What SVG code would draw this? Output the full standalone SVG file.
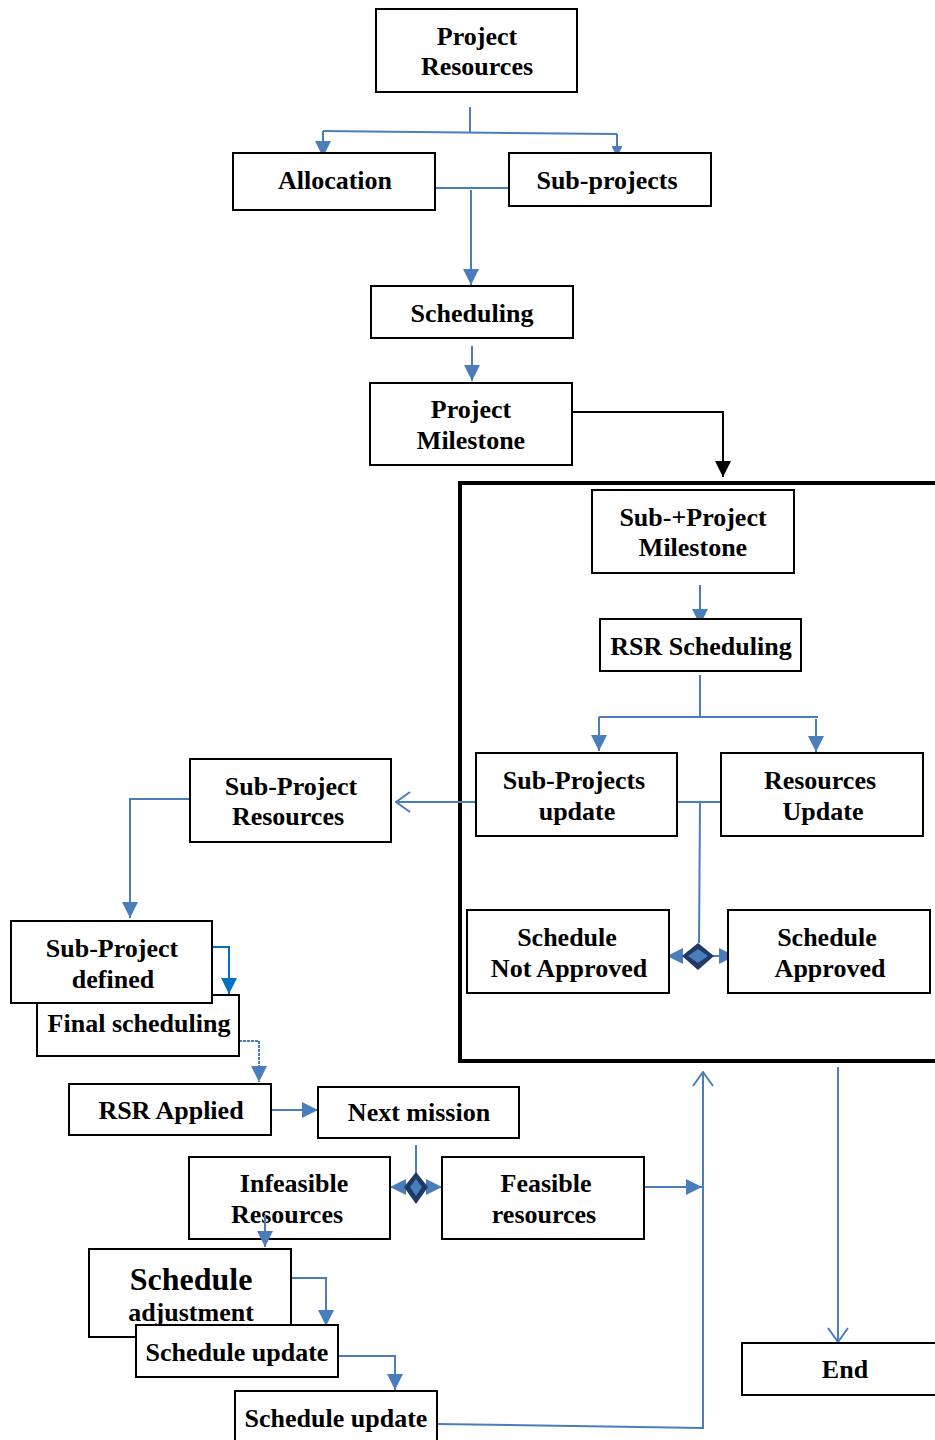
<svg xmlns="http://www.w3.org/2000/svg" width="935" height="1440" viewBox="0 0 935 1440">
<style>
.box{fill:#fff;stroke:#000;stroke-width:2}
.t{font-family:"Liberation Serif","Times New Roman",Times,serif;font-weight:700;font-size:26px;text-anchor:middle;fill:#000}
.c{fill:none;stroke:#4A7EBB;stroke-width:2}
.k{fill:none;stroke:#000;stroke-width:2}
</style>
<defs>
<marker id="tri" viewBox="0 0 16 16" refX="16" refY="8" markerWidth="16" markerHeight="16" markerUnits="userSpaceOnUse" orient="auto"><path d="M0,0 L16,8 L0,16 z" fill="#4A7EBB"/></marker>
<marker id="triS" viewBox="0 0 16 16" refX="16" refY="8" markerWidth="12" markerHeight="11" markerUnits="userSpaceOnUse" orient="auto"><path d="M0,0 L16,8 L0,16 z" fill="#4A7EBB"/></marker>
<marker id="triD" viewBox="0 0 16 16" refX="16" refY="8" markerWidth="16" markerHeight="16" markerUnits="userSpaceOnUse" orient="auto"><path d="M0,0 L16,8 L0,16 z" fill="#0070C0"/></marker>
<marker id="open" viewBox="0 0 16 22" refX="15" refY="11" markerWidth="16" markerHeight="22" markerUnits="userSpaceOnUse" orient="auto"><path d="M1,1 L15,11 L1,21" fill="none" stroke="#4A7EBB" stroke-width="2"/></marker>
<marker id="blk" viewBox="0 0 16 16" refX="16" refY="8" markerWidth="16" markerHeight="16" markerUnits="userSpaceOnUse" orient="auto"><path d="M0,0 L16,8 L0,16 z" fill="#000"/></marker>
</defs>

<rect x="460" y="483" width="480" height="578" fill="none" stroke="#000" stroke-width="4"/>

<g id="connectors">
<path class="c" d="M470,107 V132"/>
<path class="c" d="M323,131 L617,134"/>
<path class="c" d="M323,131 V157" marker-end="url(#tri)"/>
<path class="c" d="M617,134 V157" marker-end="url(#triS)"/>
<path class="c" d="M435,188 H509"/>
<path class="c" d="M471,190 V285" marker-end="url(#tri)"/>
<path class="c" d="M472,346 V381" marker-end="url(#tri)"/>
<path class="k" d="M572,412 H723 V477" marker-end="url(#blk)"/>
<path class="c" d="M700,585 V625" marker-end="url(#tri)"/>
<path class="c" d="M700,675 V717"/>
<path class="c" d="M599,717 H818"/>
<path class="c" d="M599,717 V751" marker-end="url(#tri)"/>
<path class="c" d="M816,719 V752" marker-end="url(#tri)"/>
<path class="c" d="M677,802 H722"/>
<path class="c" d="M700,802 L699,943"/>
<path class="c" d="M683,956 H667" marker-end="url(#tri)"/>
<path class="c" d="M713,956 H735" marker-end="url(#tri)"/>
<path class="c" d="M476,802 H396" marker-end="url(#open)"/>
<path class="c" d="M190,799 H130 V918" marker-end="url(#tri)"/>
<path d="M212,947 H229 V994" fill="none" stroke="#0070C0" stroke-width="2" marker-end="url(#triD)"/>
<path class="c" d="M239,1041 H259 V1082" stroke-dasharray="3,1" marker-end="url(#tri)"/>
<path class="c" d="M271,1110 H318" marker-end="url(#tri)"/>
<path class="c" d="M416,1145 V1173"/>
<path class="c" d="M405,1187 H390" marker-end="url(#tri)"/>
<path class="c" d="M427,1187 H442" marker-end="url(#tri)"/>
<path class="c" d="M644,1187 H702" marker-end="url(#tri)"/>
<path class="c" d="M437,1424 L703,1428 V1072" marker-end="url(#open)"/>
<path class="c" d="M838,1067 V1342" marker-end="url(#open)"/>
<path class="c" d="M291,1278 H326 V1326" marker-end="url(#tri)"/>
<path class="c" d="M338,1356 H395 V1390" marker-end="url(#tri)"/>
</g>

<g id="diamond1">
<path d="M698,943 L714,956 L698,970 L682,956 z" fill="#1F3864"/>
<path d="M698,949 L708,956 L698,963 L688,956 z" fill="#4A7EBB"/>
</g>
<g id="diamond2">
<path d="M416,1172 L428,1187 L416,1204 L404,1187 z" fill="#1F3864"/>
<path d="M416,1179 L422,1187 L416,1196 L410,1187 z" fill="#4A7EBB"/>
</g>

<g id="project-resources"><rect class="box" x="376" y="9" width="201" height="83"/><text class="t" x="477" y="45">Project</text><text class="t" x="477" y="75">Resources</text></g>
<g id="allocation"><rect class="box" x="233" y="153" width="202" height="57"/><text class="t" x="335" y="189">Allocation</text></g>
<g id="sub-projects"><rect class="box" x="509" y="153" width="202" height="53"/><text class="t" x="607" y="189">Sub-projects</text></g>
<g id="scheduling"><rect class="box" x="371" y="286" width="202" height="52"/><text class="t" x="472" y="322">Scheduling</text></g>
<g id="project-milestone"><rect class="box" x="370" y="383" width="202" height="82"/><text class="t" x="471" y="418">Project</text><text class="t" x="471" y="449">Milestone</text></g>
<g id="sub-project-milestone"><rect class="box" x="592" y="490" width="202" height="83"/><text class="t" x="693" y="526">Sub-+Project</text><text class="t" x="693" y="556">Milestone</text></g>
<g id="rsr-scheduling"><rect class="box" x="600" y="619" width="201" height="52"/><text class="t" x="701" y="655">RSR Scheduling</text></g>
<g id="sub-projects-update"><rect class="box" x="476" y="753" width="201" height="83"/><text class="t" x="574" y="789">Sub-Projects</text><text class="t" x="577" y="820">update</text></g>
<g id="resources-update"><rect class="box" x="721" y="753" width="202" height="83"/><text class="t" x="820" y="789">Resources</text><text class="t" x="823" y="820">Update</text></g>
<g id="schedule-not-approved"><rect class="box" x="467" y="910" width="202" height="83"/><text class="t" x="567" y="946">Schedule</text><text class="t" x="569" y="977">Not Approved</text></g>
<g id="schedule-approved"><rect class="box" x="728" y="910" width="202" height="83"/><text class="t" x="827" y="946">Schedule</text><text class="t" x="830" y="977">Approved</text></g>
<g id="sub-project-resources"><rect class="box" x="190" y="759" width="201" height="83"/><text class="t" x="291" y="795">Sub-Project</text><text class="t" x="288" y="825">Resources</text></g>
<g id="final-scheduling"><rect class="box" x="37" y="995" width="202" height="61"/><text class="t" x="139" y="1032">Final scheduling</text></g>
<g id="sub-project-defined"><rect class="box" x="11" y="921" width="201" height="82"/><text class="t" x="112" y="957">Sub-Project</text><text class="t" x="113" y="988">defined</text></g>
<g id="rsr-applied"><rect class="box" x="69" y="1084" width="202" height="51"/><text class="t" x="171" y="1119">RSR Applied</text></g>
<g id="next-mission"><rect class="box" x="318" y="1087" width="201" height="51"/><text class="t" x="419" y="1121">Next mission</text></g>
<g id="infeasible-resources"><rect class="box" x="189" y="1157" width="201" height="82"/><text class="t" x="294" y="1192">Infeasible</text><text class="t" x="287" y="1223">Resources</text></g>
<g id="feasible-resources"><rect class="box" x="442" y="1157" width="202" height="82"/><text class="t" x="546" y="1192">Feasible</text><text class="t" x="544" y="1223">resources</text></g>
<g id="schedule-adjustment"><rect class="box" x="89" y="1249" width="202" height="88"/><text class="t" x="191" y="1290" style="font-size:32px">Schedule</text><text class="t" x="191" y="1321">adjustment</text></g>
<g id="schedule-update-1"><rect class="box" x="136" y="1325" width="202" height="52"/><text class="t" x="237" y="1361">Schedule update</text></g>
<g id="schedule-update-2"><rect class="box" x="235" y="1391" width="202" height="55"/><text class="t" x="336" y="1427">Schedule update</text></g>
<g id="end"><rect class="box" x="742" y="1343" width="200" height="52"/><text class="t" x="845" y="1378">End</text></g>
<path class="c" d="M265,1215 V1247" marker-end="url(#tri)"/>
</svg>
